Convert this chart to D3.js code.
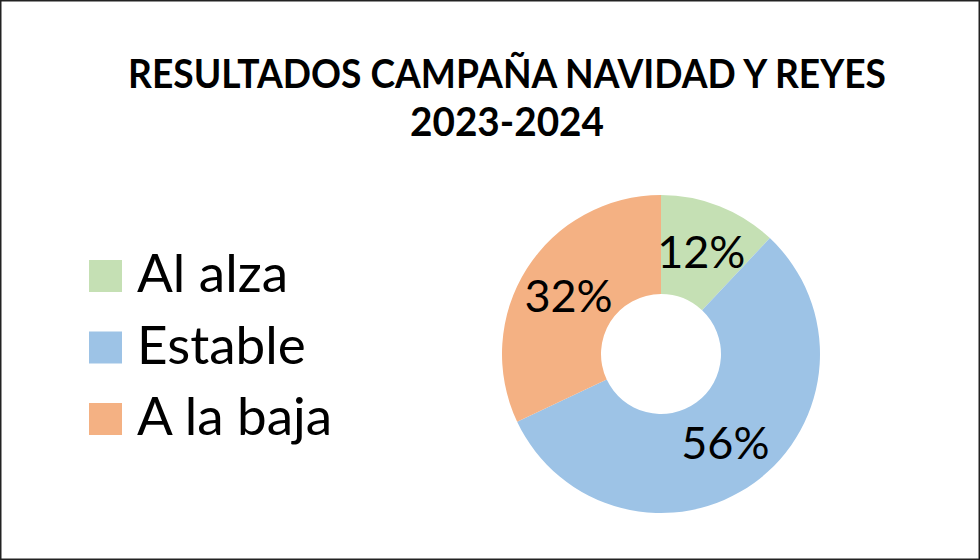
<!DOCTYPE html>
<html>
<head>
<meta charset="utf-8">
<script src="https://cdn.jsdelivr.net/npm/d3@7"></script>
<style>
  html, body { margin: 0; padding: 0; background: #fff; }
  svg { display: block; }
  text { font-family: Lato, "Open Sans", sans-serif; fill: #000; }
</style>
</head>
<body>
<div id="chart"></div>
<script>
/* Donut: resultados campaña Navidad y Reyes */

const categorias = ["Al alza", "Estable", "A la baja"];
const valores = [12, 56, 32];
const colores = ["#c5e0b4", "#9dc3e6", "#f4b183"];
const titulo = ["RESULTADOS CAMPAÑA NAVIDAD Y REYES", "2023-2024"];
const anchoTitulo = [758, 194];

const W = 980, H = 560;
const cx = 661, cy = 354, rExt = 159, rInt = 60;

const svg = d3.select("#chart").append("svg")
  .attr("width", W).attr("height", H)
  .attr("viewBox", `0 0 ${W} ${H}`);

svg.append("rect")
  .attr("x", 0.75).attr("y", 0.75)
  .attr("width", W - 1.5).attr("height", H - 1.5)
  .attr("fill", "#fff").attr("stroke", "#222").attr("stroke-width", 1.5);

// título
svg.append("g").selectAll("text")
  .data(titulo).join("text")
  .attr("x", 507)
  .attr("y", (d, i) => 88 + i * 48)
  .attr("text-anchor", "middle")
  .attr("textLength", (d, i) => anchoTitulo[i])
  .attr("lengthAdjust", "spacingAndGlyphs")
  .style("font-weight", 700)
  .style("font-size", "40px")
  .text((d) => d);

// donut
const pie = d3.pie().sort(null).value((d) => d);
const arc = d3.arc().innerRadius(rInt).outerRadius(rExt);
const arcos = pie(valores);
const total = d3.sum(valores);

const g = svg.append("g").attr("transform", `translate(${cx},${cy})`);
g.selectAll("path")
  .data(arcos).join("path")
  .attr("d", arc)
  .attr("fill", (d, i) => colores[i]);

g.selectAll("text")
  .data(arcos).join("text")
  .attr("transform", (d) => `translate(${arc.centroid(d)})`)
  .attr("text-anchor", "middle")
  .attr("dy", "0.36em")
  .style("font-size", "45px")
  .text((d) => `${Math.round(d.value / total * 100)}%`);

// leyenda
const leg = svg.append("g").attr("transform", "translate(89,260)");
const filas = leg.selectAll("g")
  .data(categorias).join("g")
  .attr("transform", (d, i) => `translate(0,${i * 71.5})`);
filas.append("rect")
  .attr("width", 33).attr("height", 32)
  .attr("fill", (d, i) => colores[i]);
filas.append("text")
  .attr("x", 48).attr("y", 32)
  .style("font-size", "53px")
  .text((d) => d);
</script>
</body>
</html>
